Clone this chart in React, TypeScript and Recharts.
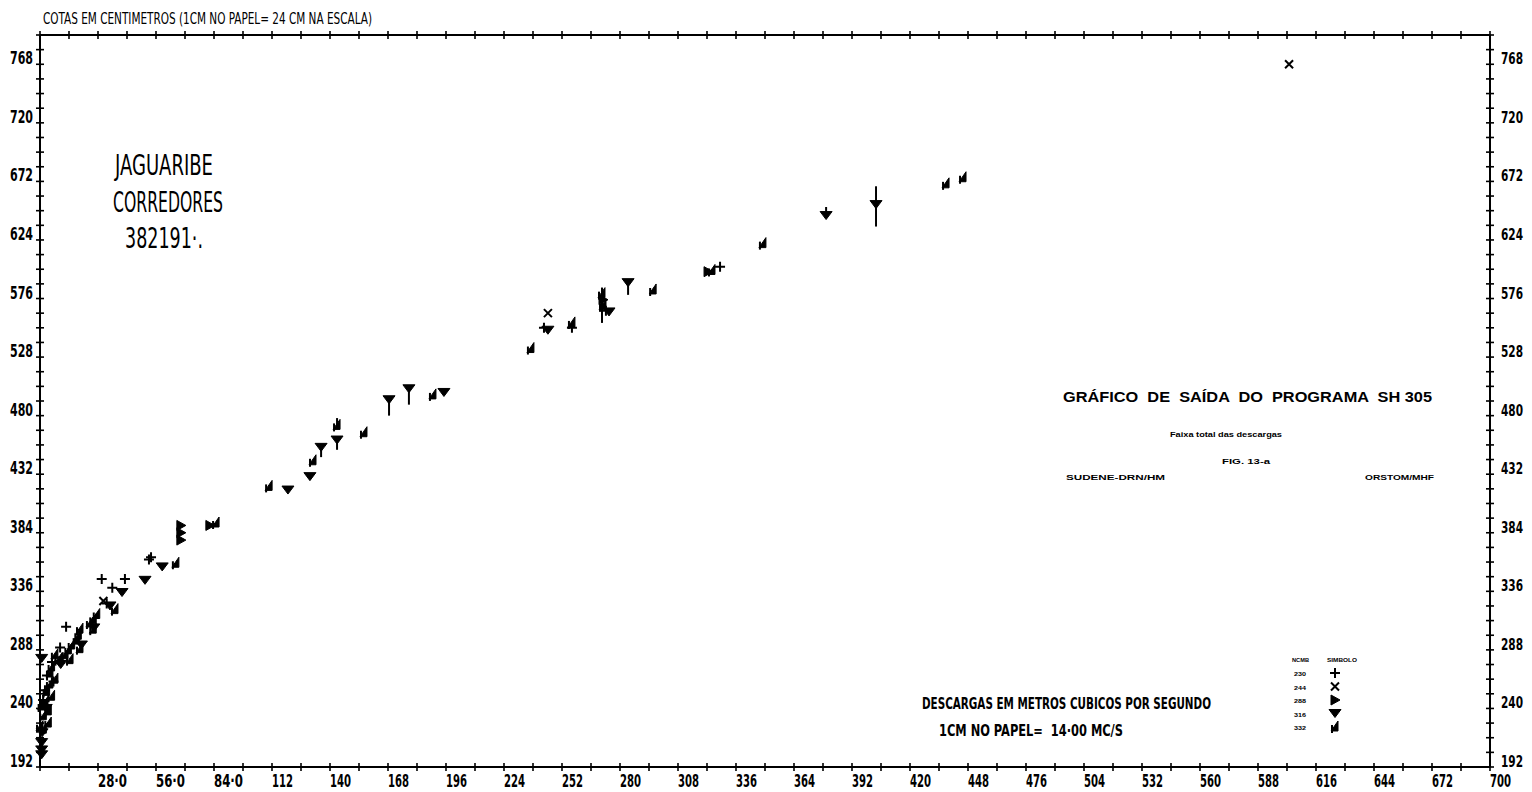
import React from "react";
import { ScatterChart, Scatter, XAxis, YAxis, ErrorBar } from "recharts";

// Plotter-style stage/discharge chart (cotas x descargas), Jaguaribe - Corredores.

const NARROW = "'Liberation Sans Narrow', 'DejaVu Sans Condensed', 'Liberation Sans', sans-serif";
const BOLD = "'Liberation Sans', 'DejaVu Sans', sans-serif";

const xLabels = ["28·0", "56·0", "84·0", "112", "140", "168", "196", "224", "252", "280", "308", "336", "364",
  "392", "420", "448", "476", "504", "532", "560", "588", "616", "644", "672", "700"];
const yLabels = ["192", "240", "288", "336", "384", "432", "480", "528", "576", "624", "672", "720", "768"];

// minor ticks: every 14 MC/S (1 cm) on x, every 12 cm on y
const xTicks = Array.from({ length: 51 }, (_, i) => i * 14);
const yTicks = Array.from({ length: 51 }, (_, i) => 192 + i * 12);

const legendNames = ["230", "244", "288", "316", "332"];

// [descarga, cota]
const s230: [number, number][] = [
  [29.8, 346], [34.9, 339], [41, 346], [52.6, 362], [53.6, 364], [12.6, 307], [9.7, 290], [3.4, 267],
  [5.8, 278], [2.4, 255], [32.2, 326], [328.3, 602], [243.3, 552], [273.2, 566], [256.8, 552],
  [6.5, 262], [1.5, 247], [11, 282],
];
const s244: [number, number][] = [[603, 768], [245.2, 564], [30.6, 328]];
const s288: [number, number][] = [[68, 390], [68, 384], [68, 378], [271.8, 575], [322.5, 598], [82, 390]];
// [descarga, cota, faixa abaixo, faixa acima]
const s316: [number, number, number, number][] = [
  [403.6, 653, 18, 15], [379.5, 644, 0, 7], [283.9, 589, 10, 0], [274.7, 565, 0, 0], [245.2, 550, 0, 0],
  [195, 499, 0, 0], [178.1, 502, 13, 0], [168.5, 493, 13, 0], [143.4, 460, 8, 0], [135.7, 454, 8, 0],
  [130.3, 430, 0, 0], [119.7, 419, 0, 0], [59, 356, 0, 0], [50.7, 345, 0, 0], [39.6, 335, 0, 0],
  [33.8, 324, 0, 0], [0.8, 281, 0, 0], [0.8, 212, 0, 0], [0.8, 206, 0, 0], [0.8, 202, 0, 0],
  [1, 220, 0, 0], [20, 292, 0, 0], [26, 306, 0, 0], [10, 276, 0, 0], [3, 240, 0, 0],
];
const s332: [number, number, number, number][] = [
  [437.4, 670, 0, 0], [445.6, 675, 0, 0], [349, 621, 0, 0], [324.4, 599, 0, 0], [296, 583, 0, 0],
  [271.3, 580, 24, 5], [271.8, 570, 0, 0], [256.8, 556, 0, 0], [237, 535, 0, 0], [189.7, 497, 0, 0],
  [156.4, 466, 0, 0], [143.4, 472, 0, 6], [131.8, 443, 0, 0], [110.6, 422, 0, 0], [85, 392, 0, 0],
  [65.6, 359, 0, 0], [36.2, 321, 0, 0], [27.4, 317, 0, 0], [25.7, 313, 0, 0], [24.1, 310, 0, 0],
  [25.7, 305, 0, 0], [19.3, 305, 0, 0], [18.5, 300, 0, 0], [17.7, 296, 0, 0], [19.3, 289, 0, 0],
  [15.3, 292, 0, 0], [13.7, 288, 0, 0], [14.5, 280, 0, 0], [12.1, 284, 0, 0], [7.2, 284, 0, 0],
  [8.9, 280, 0, 0], [5.6, 274, 0, 0], [4.8, 269, 0, 0], [7.2, 264, 0, 0], [4.8, 260, 0, 0],
  [3.2, 254, 0, 0], [5.6, 250, 0, 0], [2.4, 245, 0, 0], [4, 238, 0, 0], [0.8, 242, 0, 0],
  [1.6, 234, 0, 0], [4, 228, 0, 0], [0, 225, 0, 0], [1.6, 223, 0, 0],
];

const toPts = (rows: number[][]) =>
  rows.map((r) => ({ x: r[0], y: r[1], err: [r[2] ?? 0, r[3] ?? 0] }));

type Kind = "plus" | "cross" | "right" | "down" | "left";

function Glyph({ kind, cx, cy }: { kind: Kind; cx: number; cy: number }) {
  const k = { stroke: "#000", strokeWidth: 2, fill: "none" };
  if (kind === "plus") return <path d={`M${cx - 5},${cy}H${cx + 5}M${cx},${cy - 5}V${cy + 5}`} {...k} />;
  if (kind === "cross")
    return <path d={`M${cx - 4},${cy - 4}L${cx + 4},${cy + 4}M${cx + 4},${cy - 4}L${cx - 4},${cy + 4}`} {...k} />;
  if (kind === "right")
    return <polygon points={`${cx - 4},${cy - 5} ${cx + 5},${cy} ${cx - 4},${cy + 5}`} fill="#000" stroke="#000" />;
  if (kind === "down")
    return <polygon points={`${cx - 6},${cy - 4} ${cx + 6},${cy - 4} ${cx},${cy + 4}`} fill="#000" stroke="#000" />;
  return (
    <g>
      <polygon points={`${cx + 3},${cy - 6} ${cx - 4},${cy + 4} ${cx + 3},${cy + 4}`} fill="#000" stroke="#000" />
      <line x1={cx - 3} x2={cx - 3} y1={cy - 2} y2={cy + 6} stroke="#000" strokeWidth={2} />
    </g>
  );
}

const shapeOf = (kind: Kind) => (p: any) => <Glyph kind={kind} cx={p.cx} cy={p.cy} />;

function BottomTick(props: any) {
  const { x, y, payload } = props;
  const v = payload.value;
  const label = v > 0 && v % 28 === 0 ? xLabels[v / 28 - 1] : null;
  return (
    <g>
      <line x1={x} x2={x} y1={y - 4} y2={y + 4} stroke="#000" strokeWidth={1.6} />
      {label && (
        <text x={x} y={y + 20} fontSize={18} fontFamily={NARROW} fontWeight={700} fill="#000"
          textLength={label.length > 3 ? 29 : 21} lengthAdjust="spacingAndGlyphs">
          {label}
        </text>
      )}
    </g>
  );
}

function TopTick(props: any) {
  const { x, y } = props;
  return <line x1={x} x2={x} y1={y - 4} y2={y + 4} stroke="#000" strokeWidth={1.6} />;
}

function SideTick(props: any) {
  const { x, y, payload, side } = props;
  const v = payload.value;
  const label = (v - 192) % 48 === 0 && v <= 768 ? yLabels[(v - 192) / 48] : null;
  const left = side === "left";
  return (
    <g>
      <line x1={x - 4} x2={x + 4} y1={y} y2={y} stroke="#000" strokeWidth={1.6} />
      {label && (
        <text x={left ? x - 7 : x + 11} y={y} fontSize={left ? 18 : 16} fontFamily={NARROW} fontWeight={700}
          fill="#000" textAnchor={left ? "end" : "start"} textLength={left ? 23 : 22} lengthAdjust="spacingAndGlyphs">
          {label}
        </text>
      )}
    </g>
  );
}

function T(props: {
  x: number; y: number; w: number; size: number; bold?: boolean; wide?: boolean; children: string;
}) {
  return (
    <text x={props.x} y={props.y} fontSize={props.size} fontFamily={props.wide ? BOLD : NARROW}
      fontWeight={props.bold ? 700 : 400} fill="#000" textLength={props.w} lengthAdjust="spacingAndGlyphs"
      style={{ whiteSpace: "pre" }}>
      {props.children}
    </text>
  );
}

const axisLine = { stroke: "#000", strokeWidth: 2 };
const legendKinds: Kind[] = ["plus", "cross", "right", "down", "left"];

export default function App() {
  return (
    <div style={{ position: "relative", width: 1532, height: 792, background: "#fff" }}>
      <style>{"body{margin:0}"}</style>
      <ScatterChart width={1532} height={792} margin={{ top: 34, right: 0, bottom: 0, left: 0 }}>
        <XAxis type="number" dataKey="x" domain={[0, 700]} ticks={xTicks} interval={0} height={25}
          axisLine={axisLine} tickLine={false} tickSize={0} tickMargin={0} tick={<BottomTick />} />
        <XAxis xAxisId="top" orientation="top" type="number" dataKey="x" domain={[0, 700]} ticks={xTicks}
          interval={0} height={1} axisLine={axisLine} tickLine={false} tickSize={0} tickMargin={0} tick={<TopTick />} />
        <YAxis type="number" dataKey="y" domain={[192, 792]} ticks={yTicks} interval={0} width={40}
          axisLine={axisLine} tickLine={false} tickSize={0} tickMargin={0} tick={<SideTick side="left" />} />
        <YAxis yAxisId="right" orientation="right" type="number" dataKey="y" domain={[192, 792]} ticks={yTicks}
          interval={0} width={42} axisLine={axisLine} tickLine={false} tickSize={0} tickMargin={0}
          tick={<SideTick side="right" />} />
        <Scatter data={toPts(s230)} shape={shapeOf("plus")} isAnimationActive={false} />
        {/* same scales as bottom/left; bound to top/right so those axes get their ticks */}
        <Scatter data={toPts(s244)} xAxisId="top" yAxisId="right" shape={shapeOf("cross")} isAnimationActive={false} />
        <Scatter data={toPts(s288)} shape={shapeOf("right")} isAnimationActive={false} />
        <Scatter data={toPts(s316)} shape={shapeOf("down")} isAnimationActive={false}>
          <ErrorBar dataKey="err" direction="y" width={0} stroke="#000" strokeWidth={2} />
        </Scatter>
        <Scatter data={toPts(s332)} shape={shapeOf("left")} isAnimationActive={false}>
          <ErrorBar dataKey="err" direction="y" width={0} stroke="#000" strokeWidth={2} />
        </Scatter>
      </ScatterChart>

      <svg width={1532} height={792} style={{ position: "absolute", left: 0, top: 0, pointerEvents: "none" }}>
        <T x={43} y={24} w={329} size={16}>COTAS EM CENTIMETROS (1CM NO PAPEL= 24 CM NA ESCALA)</T>
        <T x={115} y={175} w={98} size={28}>JAGUARIBE</T>
        <T x={113} y={212} w={110} size={28}>CORREDORES</T>
        <T x={125} y={248} w={78} size={28}>382191·.</T>

        <T x={1063} y={402} w={369} size={14} bold wide>GRÁFICO  DE  SAÍDA  DO  PROGRAMA  SH 305</T>
        <T x={1170} y={437} w={112} size={8} bold wide>Faixa total das descargas</T>
        <T x={1222} y={464} w={48} size={8} bold wide>FIG. 13-a</T>
        <T x={1066} y={480} w={99} size={8} bold wide>SUDENE-DRN/HM</T>
        <T x={1365} y={480} w={69} size={8} bold wide>ORSTOM/MHF</T>

        <T x={922} y={709} w={289} size={16} bold>DESCARGAS EM METROS CUBICOS POR SEGUNDO</T>
        <T x={939} y={736} w={184} size={16} bold>1CM NO PAPEL=  14·00 MC/S</T>

        <T x={1292} y={662} w={17} size={6} bold wide>NCMB</T>
        <T x={1327} y={662} w={30} size={6} bold wide>SIMBOLO</T>
        {legendNames.map((n, i) => (
          <g key={n}>
            <T x={1294} y={676 + i * 13.5} w={12} size={6} bold wide>{n}</T>
            <Glyph kind={legendKinds[i]} cx={1335} cy={673 + i * 13.5} />
          </g>
        ))}
      </svg>
    </div>
  );
}
